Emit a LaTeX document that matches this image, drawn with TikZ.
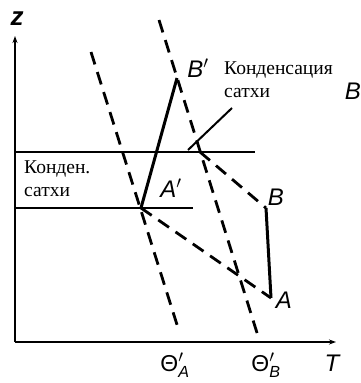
\documentclass[tikz,border=0pt]{standalone}
\usepackage{fontspec}
\usepackage{amsmath}
\setmainfont{Liberation Serif}
\newfontfamily\lblfont{Liberation Sans}
\usetikzlibrary{arrows.meta}
\begin{document}
\begin{tikzpicture}[x=1pt,y=-1pt,
  axis/.style={line width=2.8pt,-{Stealth[length=7pt,width=5pt]}},
  level/.style={line width=2.8pt},
  solidpath/.style={line width=3pt},
  dashline/.style={line width=2.8pt,dash pattern=on 13pt off 8pt},
  leader/.style={line width=2pt},
  pt/.style={font=\lblfont\itshape\fontsize{24}{24}\selectfont,inner sep=0pt},
  th/.style={font=\lblfont\fontsize{23}{23}\selectfont,inner sep=0pt},
  rus/.style={font=\fontsize{19.5}{23}\selectfont,inner sep=0pt,align=left}]
\useasboundingbox (0,0) rectangle (361,383);
\clip (0,0) rectangle (361,383);
% axes
\coordinate (O) at (15,342);
\coordinate (Ztop) at (15,36);
\coordinate (Tend) at (336,342);
\draw[axis] (O) -- (Ztop);
\draw[axis] (O) -- (Tend);
% levels
\coordinate (L1a) at (16,152);
\coordinate (L1b) at (255,152);
\coordinate (L2a) at (16,208);
\coordinate (L2b) at (193,208);
\draw[level] (L1a) -- (L1b);
\draw[level] (L2a) -- (L2b);
% points
\coordinate (Ap) at (141,208);
\coordinate (Bp) at (177,78);
\coordinate (C) at (200,152);
\coordinate (B) at (266,208);
\coordinate (A) at (271,298);
% theta lines
\coordinate (ThAt) at (91,52);
\coordinate (ThAb) at (179,331);
\coordinate (ThBt) at (159,20);
\coordinate (ThBb) at (258,336);
\draw[dashline] (ThAt) -- (ThAb);
\draw[dashline] (ThBt) -- (ThBb);
\draw[dashline] (Ap) -- (A);
\draw[dashline] (C) -- (B);
\draw[solidpath] (Ap) -- (Bp);
\draw[solidpath] (B) -- (A);
% leader
\coordinate (Lt) at (232,108);
\coordinate (Lb) at (188,150);
\draw[leader] (Lt) -- (Lb);
% labels
\node[pt] (lBp) at (198,68) {B$'$};
\node[pt] (lAp) at (171,188) {A$'$};
\node[pt] (lB) at (276,197) {B};
\node[pt] (lA) at (284,300) {A};
\node[pt] (lT) at (332,363) {T};
\node[font=\lblfont\bfseries\itshape\fontsize{26}{26}\selectfont,inner sep=0pt] (lZ) at (17,19) {z};
\node[th] (lThA) at (175,365) {Θ$'_{\text{\lblfont\itshape A}}$};
\node[th] (lThB) at (266,365) {Θ$'_{\text{\lblfont\itshape B}}$};
\node[pt,anchor=east] (lBx) at (361,91) {B};
\node[rus,anchor=north west] (kond1) at (224,62) {Конденсация\\сатхи};
\node[rus,anchor=north west] (kond2) at (24,161) {Конден.\\сатхи};
\end{tikzpicture}
\end{document}
